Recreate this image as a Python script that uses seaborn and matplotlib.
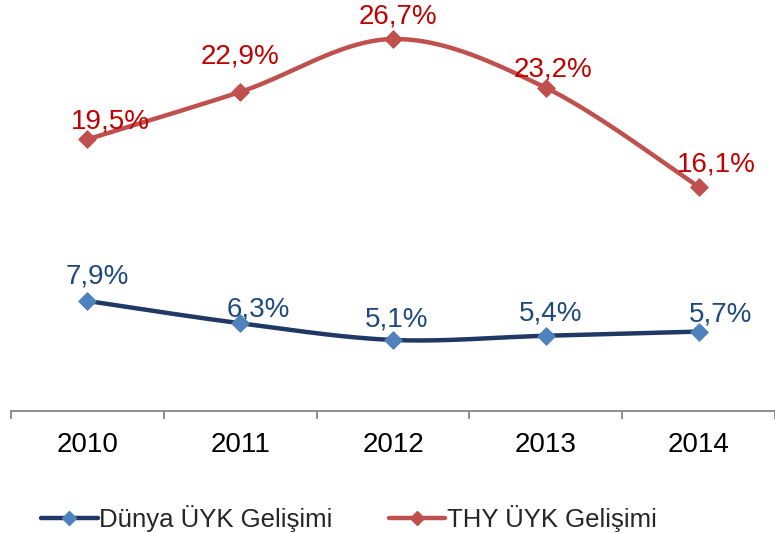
import numpy as np
import pandas as pd
import matplotlib
matplotlib.use("Agg")
import matplotlib.pyplot as plt
import seaborn as sns
from matplotlib.lines import Line2D

years = ["2010", "2011", "2012", "2013", "2014"]
dunya = [7.9, 6.3, 5.1, 5.4, 5.7]
thy = [19.5, 22.9, 26.7, 23.2, 16.1]
dunya_labels = ["7,9%", "6,3%", "5,1%", "5,4%", "5,7%"]
thy_labels = ["19,5%", "22,9%", "26,7%", "23,2%", "16,1%"]
series_names = ["Dünya ÜYK Gelişimi", "THY ÜYK Gelişimi"]

sns.set_theme(style="white")
plt.rcParams['font.family'] = ['Liberation Sans', 'DejaVu Sans']

def smooth(xs, ys, n=40):
    # Catmull-Rom style (Excel-like) smoothing through the data points
    P = np.column_stack([xs, ys]).astype(float)
    P = np.vstack([P[0], P, P[-1]])
    out = []
    for i in range(1, len(P) - 2):
        p0, p1, p2, p3 = P[i - 1], P[i], P[i + 1], P[i + 2]
        c1 = p1 + (p2 - p0) / 6
        c2 = p2 - (p3 - p1) / 6
        t = np.linspace(0, 1, n)[:, None]
        seg = ((1 - t) ** 3) * p1 + 3 * ((1 - t) ** 2) * t * c1 + 3 * (1 - t) * t ** 2 * c2 + t ** 3 * p2
        out.append(seg if i == 1 else seg[1:])
    S = np.vstack(out)
    return S[:, 0], S[:, 1]

fig = plt.figure(figsize=(7.75, 5.33), dpi=100)
ax = fig.add_axes([11 / 775, 122 / 533, 764 / 775, 411 / 533])

xs = np.arange(len(years))
line_cols = ["#1F3864", "#C0504D"]
marker_cols = ["#4F81BD", "#C0504D"]
text_cols = ["#1F497D", "#C00000"]
offsets = [
    [(10, 24), (18, 14), (4, 20), (5, 22), (22, 17)],
    [(23, 18), (0, 35), (5, 23), (7, 18), (18, 22)],
]

for k, (vals, labs) in enumerate([(dunya, dunya_labels), (thy, thy_labels)]):
    sx, sy = smooth(xs, vals)
    sns.lineplot(x=sx, y=sy, ax=ax, color=line_cols[k], linewidth=3.2, sort=False,
                 estimator=None, legend=False)
    df = pd.DataFrame({"x": xs, "y": vals})
    sns.scatterplot(data=df, x="x", y="y", ax=ax, marker="D", s=80,
                    color=marker_cols[k], edgecolor=marker_cols[k], zorder=5, legend=False)
    for i, (v, lab) in enumerate(zip(vals, labs)):
        dx, dy = offsets[k][i]
        ax.annotate(lab, (xs[i], v), xytext=(dx, dy), textcoords="offset pixels",
                    ha="center", va="center", fontsize=20, color=text_cols[k])

ax.set_xlim(-0.5, len(years) - 0.5)
ax.set_ylim(0, 29.5)
ax.set_xticks(xs)
ax.set_xticklabels(years, fontsize=20, color="black")
ax.set_xticks(np.arange(-0.5, len(years), 1.0), minor=True)
ax.tick_params(axis="x", which="major", length=0, pad=15)
ax.tick_params(axis="x", which="minor", length=6, width=1.3, color="#868686", bottom=True)
ax.set_yticks([])
ax.set_xlabel("")
ax.set_ylabel("")
for s in ["top", "right", "left"]:
    ax.spines[s].set_visible(False)
ax.spines["bottom"].set_color("#868686")
ax.spines["bottom"].set_linewidth(1.3)

handles = [Line2D([0], [0], color=line_cols[k], linewidth=3.2, marker="D", markersize=7,
                  markerfacecolor=marker_cols[k], markeredgecolor=marker_cols[k])
           for k in range(2)]
fig.legend(handles, series_names, loc="center", bbox_to_anchor=(0.45, 0.028),
           ncol=2, frameon=False, fontsize=18.5, handlelength=2.2, handletextpad=0.05,
           columnspacing=2.2)

fig.savefig("out.png", dpi=100)
